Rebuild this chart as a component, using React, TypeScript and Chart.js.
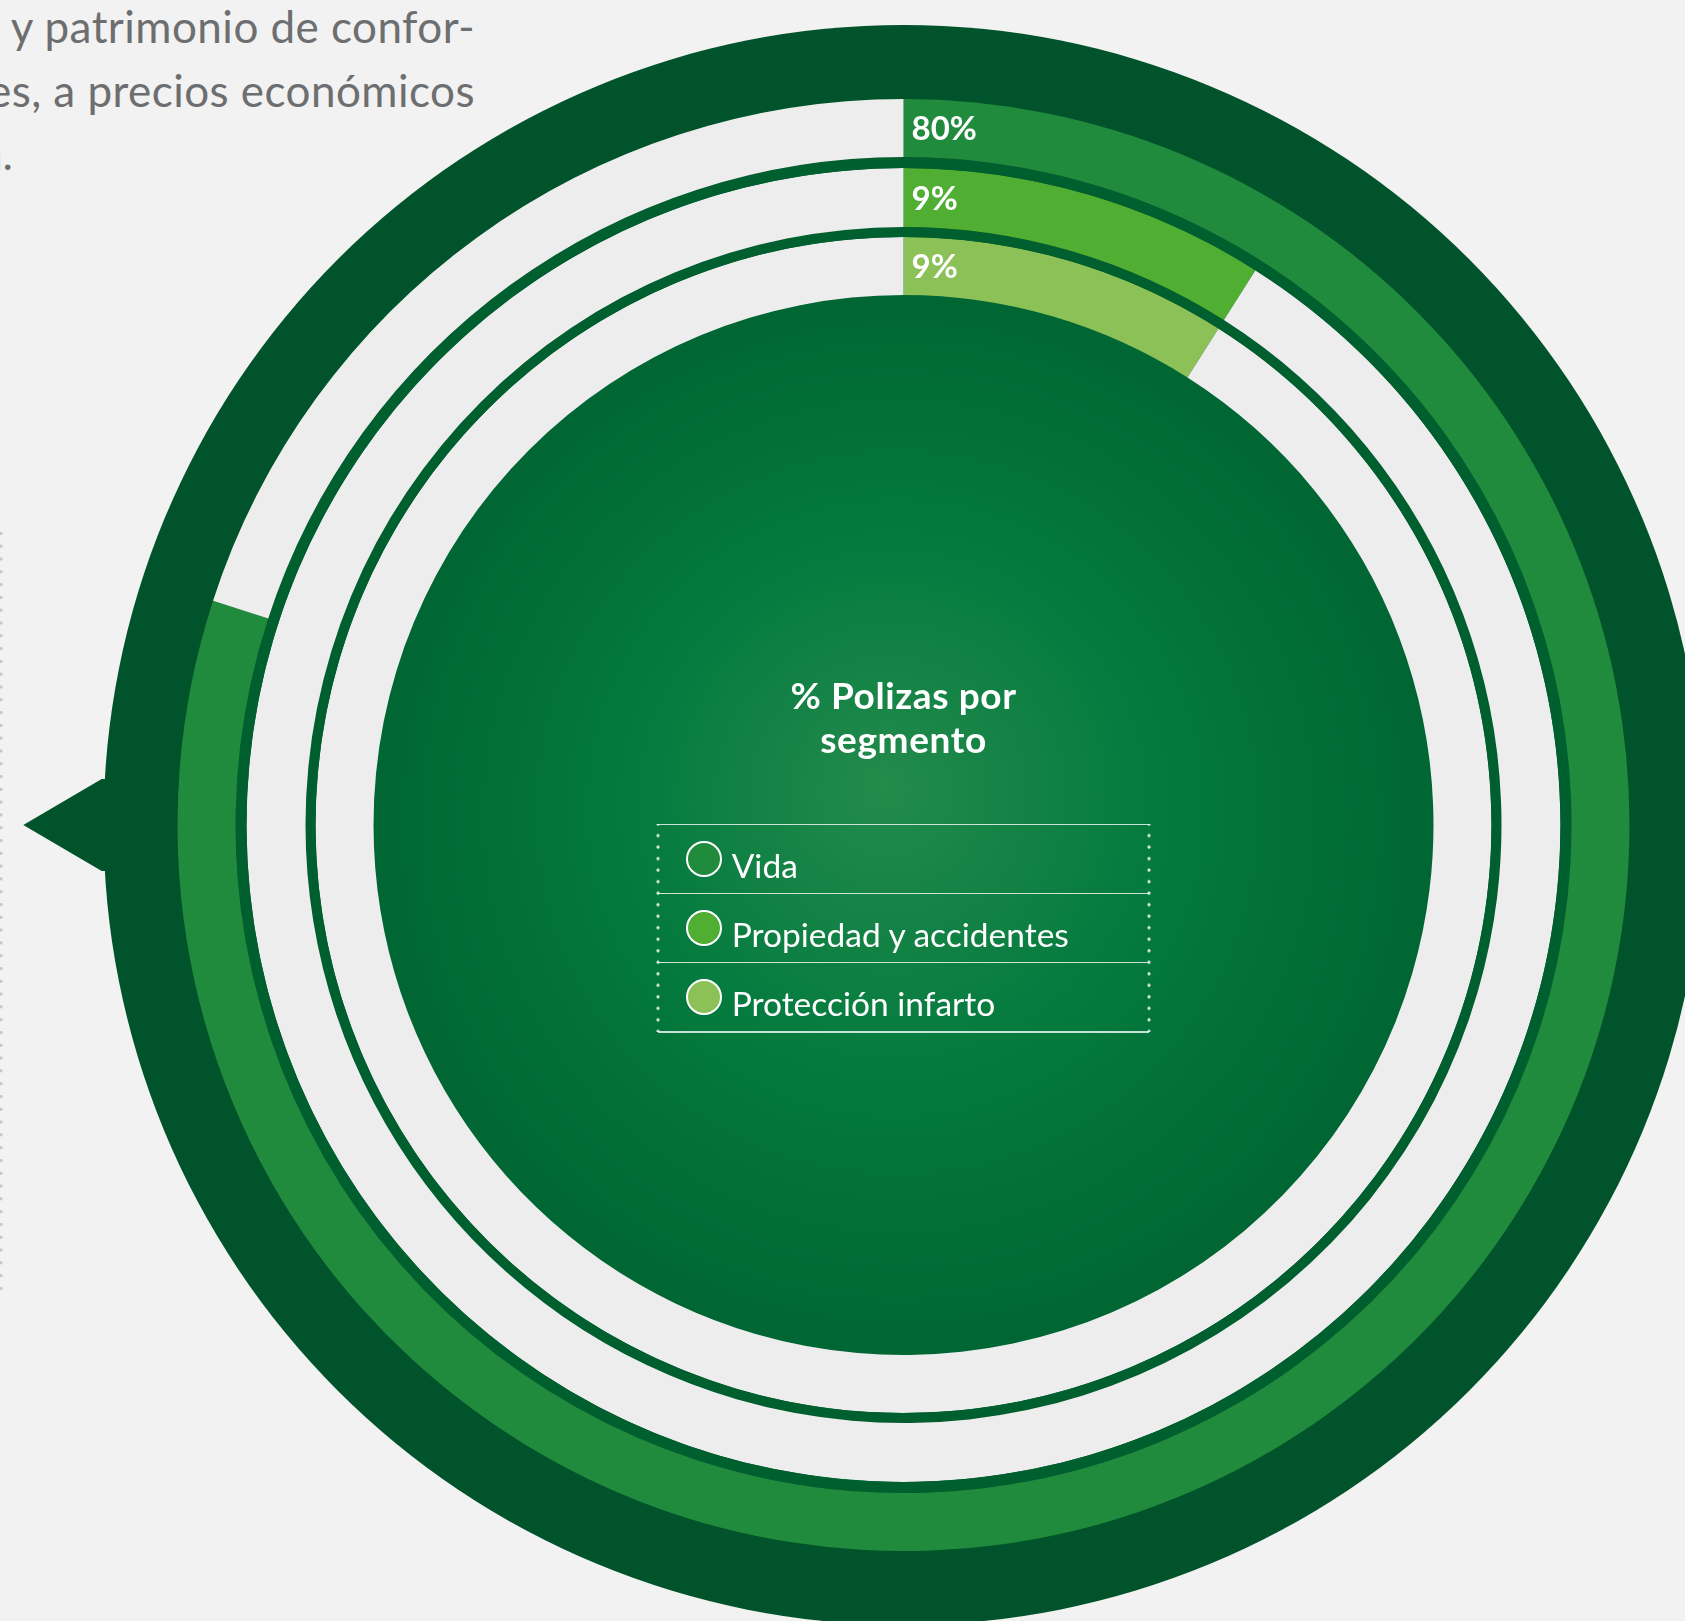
import React, { useEffect, useRef } from 'react';
import { Chart, registerables } from 'chart.js';

Chart.register(...registerables);

// ---------- data ----------
const segments = ['Vida', 'Propiedad y accidentes', 'Protección infarto'];
const shares = [80, 9, 9];
const titleLines = ['% Polizas por', 'segmento'];
const paragraphLines = ['y patrimonio de confor-', 'es, a precios económicos'];
const paragraphTail = 'a.';

// ---------- styles ----------
const SEG_COLORS = ['#218b3d', '#50ae32', '#8bc156'];
const TRACK = '#ededed';
const SEPARATOR = '#005f2e';
const OUTER = '#00532a';
const BG = '#f1f2f1';
const W = 1685;
const H = 1621;
const CX = 903.5;
const CY = 825;
const R_OUT = 726;
const R_IN = 530;
const R_FRAME = 800;
const RING_W = [58, 59, 58];
const SEP_W = [11, 10];
const FONT = 'Lato, "Open Sans", sans-serif';

const framePlugin = {
  id: 'frame',
  beforeDatasetsDraw(chart: any) {
    const meta0 = chart.getDatasetMeta(0);
    const el = meta0.data[0];
    if (!el) return;
    const { x, y } = el;
    const ctx = chart.ctx;
    ctx.save();
    // outer frame ring + pointer
    ctx.fillStyle = OUTER;
    ctx.beginPath();
    ctx.arc(x, y, R_FRAME, 0, Math.PI * 2);
    ctx.fill();
    ctx.beginPath();
    ctx.moveTo(x - 880.2, y);
    ctx.lineTo(x - 801.8, y - 46);
    ctx.lineTo(x - 700, y - 46);
    ctx.lineTo(x - 700, y + 46);
    ctx.lineTo(x - 801.8, y + 46);
    ctx.closePath();
    ctx.fill();
    // inner disk
    const lastMeta = chart.getDatasetMeta(chart.data.datasets.length - 1);
    const inner = lastMeta.data[0] ? lastMeta.data[0].innerRadius : R_IN;
    const g = ctx.createRadialGradient(x - 20, y - 40, 0, x, y, inner);
    g.addColorStop(0, '#238b4c');
    g.addColorStop(0.5, '#047a3e');
    g.addColorStop(1, '#006633');
    ctx.fillStyle = g;
    ctx.beginPath();
    ctx.arc(x, y, inner + 0.5, 0, Math.PI * 2);
    ctx.fill();
    ctx.restore();
  },
};

const labelPlugin = {
  id: 'pctLabels',
  afterDatasetsDraw(chart: any) {
    const ctx = chart.ctx;
    ctx.save();
    ctx.fillStyle = '#ffffff';
    ctx.font = '700 33px ' + FONT;
    ctx.textAlign = 'left';
    ctx.textBaseline = 'alphabetic';
    chart.data.datasets.forEach((ds: any, i: number) => {
      if (ds.isSeparator) return;
      const el = chart.getDatasetMeta(i).data[0];
      if (!el) return;
      const mid = (el.innerRadius + el.outerRadius) / 2;
      ctx.fillText(ds.data[0] + '%', el.x + 8, el.y - mid + 12);
    });
    ctx.restore();
  },
};

function buildDatasets() {
  const out: any[] = [];
  segments.forEach((label, i) => {
    out.push({
      label,
      data: [shares[i], 100 - shares[i]],
      backgroundColor: [SEG_COLORS[i], TRACK],
      borderWidth: 0,
      weight: RING_W[i],
    });
    if (i < segments.length - 1) {
      out.push({
        label: 'sep' + i,
        isSeparator: true,
        data: [1],
        backgroundColor: [SEPARATOR],
        borderWidth: 0,
        weight: SEP_W[i],
      });
    }
  });
  return out;
}

function ChartCanvas() {
  const ref = useRef<HTMLCanvasElement | null>(null);
  useEffect(() => {
    if (!ref.current) return;
    const chart = new Chart(ref.current, {
      type: 'doughnut',
      data: { labels: ['share', 'rest'], datasets: buildDatasets() },
      options: {
        responsive: false,
        animation: false,
        radius: R_OUT,
        cutout: ((R_IN / R_OUT) * 100).toFixed(2) + '%',
        layout: { padding: { left: Math.round(2 * CX - W), right: 0, top: Math.round(2 * CY - H), bottom: 0 } },
        plugins: { legend: { display: false }, tooltip: { enabled: false }, title: { display: false } },
        events: [],
      } as any,
      plugins: [framePlugin, labelPlugin],
    });
    return () => chart.destroy();
  }, []);
  return <canvas ref={ref} width={W} height={H} style={{ position: 'absolute', left: 0, top: 0, width: W, height: H }} />;
}

export default function App() {
  const paraF = 44;
  const paraBase = [42.7, 107.3];
  const titleF = 37;
  const titleBase = [709, 753];
  const legF = 33.5;
  const legTop = 824.3;
  const rowH = 69.2;
  const legLeft = 658;
  const legRight = 1149;
  return (
    <div style={{ position: 'absolute', left: 0, top: 0, width: W, height: H, overflow: 'hidden', background: BG, fontFamily: FONT }}>
      {paragraphLines.map((t, i) => (
        <div key={i} style={{ position: 'absolute', right: W - 475, top: paraBase[i] - 0.887 * paraF, fontSize: paraF, lineHeight: 1, letterSpacing: '0.45px', whiteSpace: 'nowrap', color: '#6d6e70' }}>{t}</div>
      ))}
      <div style={{ position: 'absolute', right: W - 13, top: 170 - 0.887 * paraF, fontSize: paraF, lineHeight: 1, whiteSpace: 'nowrap', color: '#6d6e70' }}>{paragraphTail}</div>
      <div style={{ position: 'absolute', left: -1, top: 527, width: 4, height: 770, backgroundImage: 'radial-gradient(circle, #c4c6c5 1.3px, rgba(0,0,0,0) 1.9px)', backgroundSize: '4px 12.8px' }} />
      <ChartCanvas />
      {titleLines.map((t, i) => (
        <div key={'t' + i} style={{ position: 'absolute', left: CX - 300, width: 600, textAlign: 'center', top: titleBase[i] - 0.887 * titleF, fontSize: titleF, fontWeight: 700, lineHeight: 1, letterSpacing: '0.6px', color: '#ffffff', whiteSpace: 'nowrap' }}>{t}</div>
      ))}
      {[0, 1, 2, 3].map((i) => (
        <div key={'h' + i} style={{ position: 'absolute', left: legLeft, width: legRight - legLeft, top: legTop + i * rowH - 0.75, height: 1.5, background: 'rgba(235,245,238,0.85)' }} />
      ))}
      {[legLeft, legRight].map((x, i) => (
        <div key={'v' + i} style={{ position: 'absolute', left: x - 2, top: legTop, width: 4, height: rowH * 3, backgroundImage: 'radial-gradient(circle, rgba(235,245,238,0.9) 1.3px, rgba(0,0,0,0) 1.9px)', backgroundSize: '4px 11.53px', backgroundPosition: '0 -5.7px' }} />
      ))}
      {segments.map((s, i) => (
        <React.Fragment key={'l' + i}>
          <div style={{ position: 'absolute', left: 704 - 18.5, top: legTop + i * rowH + 34.8 - 18.5, width: 32, height: 32, borderRadius: '50%', border: '2.5px solid #ffffff', background: SEG_COLORS[i] }} />
          <div style={{ position: 'absolute', left: 731.7, top: legTop + i * rowH + 54 - 0.887 * legF, fontSize: legF, lineHeight: 1, color: '#ffffff', whiteSpace: 'nowrap' }}>{s}</div>
        </React.Fragment>
      ))}
    </div>
  );
}
